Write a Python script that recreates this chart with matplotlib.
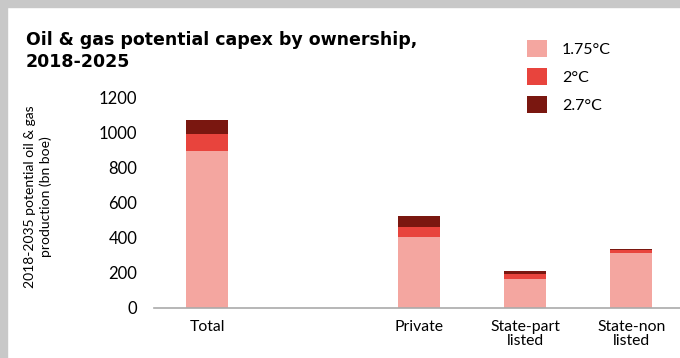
import numpy as np
import matplotlib
matplotlib.use("Agg")
import matplotlib.pyplot as plt

# data
categories = ["Total", "Private", "State-part\nlisted", "State-non\nlisted"]
slots = [0, 2, 3, 4]
low_175 = [890, 400, 163, 310]
mid_2 = [100, 60, 27, 15]
high_27 = [80, 60, 17, 9]
series_names = ["1.75°C", "2°C", "2.7°C"]
colors = ["#f4a6a0", "#e8443d", "#7a1710"]

plt.rcParams["font.family"] = ["Lato", "DejaVu Sans"]

fig = plt.figure(figsize=(6.8, 3.58), dpi=100)
fig.patch.set_facecolor("white")

# gray frame on top and left
fig.patches.append(matplotlib.patches.Rectangle((0, 1 - 7 / 358), 1, 7 / 358,
                   transform=fig.transFigure, color="#c8c8c8", zorder=0))
fig.patches.append(matplotlib.patches.Rectangle((0, 0), 7 / 680, 1,
                   transform=fig.transFigure, color="#c8c8c8", zorder=0))

ax = fig.add_axes([154 / 680, 1 - 307.5 / 358, (680 - 154) / 680, (307.5 - 97) / 358])

x = np.array(slots)
bottom = np.zeros(len(x))
handles = []
for vals, c, name in zip([low_175, mid_2, high_27], colors, series_names):
    b = ax.bar(x, vals, width=0.4, bottom=bottom, color=c, label=name)
    handles.append(b)
    bottom = bottom + np.array(vals)

ax.set_xlim(-0.5, 4.46)
ax.set_ylim(0, 1200)
ax.set_yticks([0, 200, 400, 600, 800, 1000, 1200])
ax.set_xticks(x)
ax.set_xticklabels(categories, fontsize=11.3, linespacing=1.0)
ax.tick_params(axis="both", length=0)
ax.tick_params(axis="y", pad=12, labelsize=12)
ax.tick_params(axis="x", pad=9)
for s in ["top", "right", "left"]:
    ax.spines[s].set_visible(False)
ax.spines["bottom"].set_color("#aaaaaa")
ax.spines["bottom"].set_linewidth(1.2)

fig.text(38 / 680, 1 - 197 / 358, "2018-2035 potential oil & gas\nproduction (bn boe)",
         rotation=90, ha="center", va="center", fontsize=10, linespacing=1.3)

fig.text(26 / 680, 1 - 31 / 358, "Oil & gas potential capex by ownership,\n2018-2025",
         ha="left", va="top", fontsize=12.5, fontweight="bold", linespacing=1.3,
         family="DejaVu Sans")

fig.legend(handles, series_names, loc="upper left", bbox_to_anchor=(513 / 680, 1 - 26 / 358),
           frameon=False, fontsize=11.5, handlelength=1.25, handleheight=1.25,
           labelspacing=0.68, handletextpad=0.9)

fig.savefig("out.png", dpi=100)
